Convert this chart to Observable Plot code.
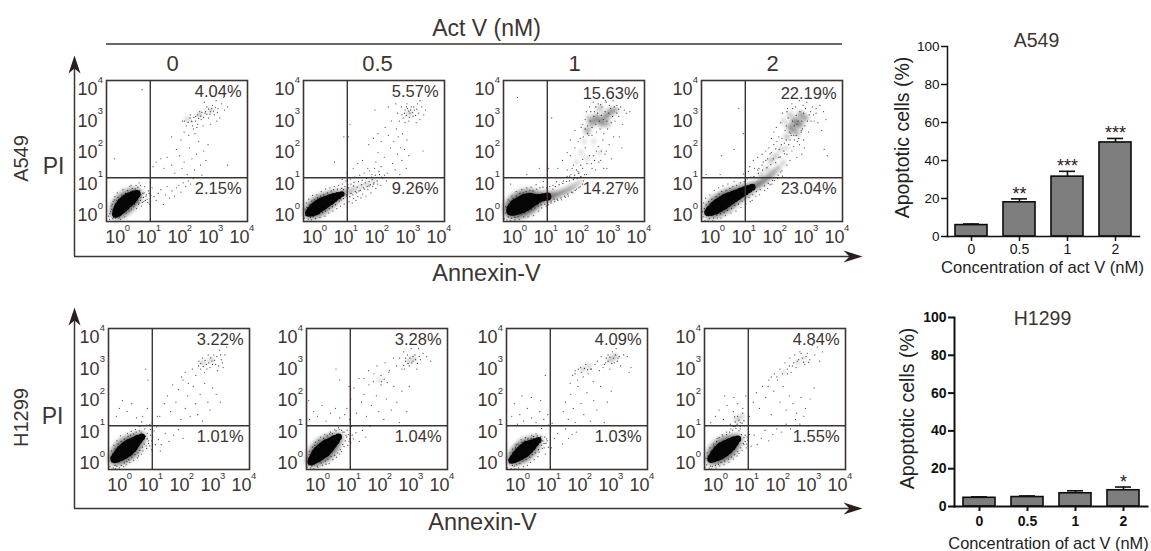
<!DOCTYPE html>
<html>
<head>
<meta charset="utf-8">
<script src="https://cdn.jsdelivr.net/npm/d3@7"></script>
<script src="https://cdn.jsdelivr.net/npm/@observablehq/plot@0.6"></script>
<style>
html,body{margin:0;padding:0;background:#fff}
#fig{position:relative;width:1151px;height:551px;overflow:hidden;background:#fff;font-family:"Liberation Sans",Arial,sans-serif}
#fig svg{position:absolute;overflow:visible;background:transparent;max-width:none}
</style>
</head>
<body>
<div id="fig"></div>
<script>
// ---------- Apoptosis bar data ----------
const doses = ["0","0.5","1","2"];
const a549Mean = [6, 18, 31.5, 49.5];
const a549Top  = [6.6, 19.8, 34.3, 51.6];
const a549Stars = ["", "**", "***", "***"];
const h1299Mean = [4.6, 5, 7, 8.6];
const h1299Top  = [5.1, 5.6, 8.3, 10.3];
const h1299Stars = ["", "", "", "*"];

// ---------- Quadrant percentages ----------
const a549Upper = ["4.04%","5.57%","15.63%","22.19%"];
const a549Lower = ["2.15%","9.26%","14.27%","23.04%"];
const h1299Upper = ["3.22%","3.28%","4.09%","4.84%"];
const h1299Lower = ["1.01%","1.04%","1.03%","1.55%"];

// ---------- Flow cytometry: log10 values x 100 ----------
// core: x, y, events in the clump; mist: x, y, events; sparse / halo: x, y
const a0core = [-5,5,12, 2,14,25, 10,25,36, 20,36,42, 31,46,42, 42,54,36, 52,61,25, 62,68,14];
const a0mist = [225,305,3, 265,320,4, 300,335,3];
const a0sparse = [-28,-2,-22,12,-20,30,-25,-12,-15,-10,-14,45,-8,60,-2,48,0,72,5,-8,10,-12,14,66,18,82,24,-4,28,8,33,80,38,14,40,92,45,20,48,86,52,28,56,34,60,96,62,22,66,46,70,40,72,80,76,58,78,30,82,70,85,44,88,92,92,62,96,52,100,78,104,36,108,64,112,88,70,104,
118,60,125,48,132,70,140,82,148,35,155,66,160,92,168,55,176,78,184,62,190,88,198,96,205,74,212,104,220,92,228,110,236,100,244,118,
115,155,125,170,140,180,150,150,160,185,175,160,185,135,190,210,200,190,208,150,215,170,225,130,232,215,240,180,248,145,255,195,262,235,268,160,272,128,278,205,285,175,292,225,
205,240,215,265,222,285,230,255,238,300,245,275,252,315,258,290,265,330,270,305,276,285,282,325,288,345,294,310,300,330,306,350,312,320,318,365,324,340,330,310,336,355,342,375,250,260,235,320,280,360,300,290,320,300,345,335,355,345,210,300,
80,400,-10,180,175,250,355,160];
const a0halo = [-24,6,-18,20,-17,36,-12,-6,-10,50,-6,-8,-4,38,2,58,6,-4,8,52,12,4,14,58,20,10,22,62,26,70,30,14,32,66,36,22,42,74,44,30,50,78,54,36,58,74,60,42,64,58,68,36,70,70,74,48,76,66,80,42,84,58,86,72,90,48,94,66,98,42,102,70,106,54,58,84,66,90,44,96,74,96,
216,300,228,296,234,310,240,298,246,312,252,300,258,320,262,308,268,316,272,328,278,312,284,330,288,322,294,338,298,322,304,340,310,332,316,344,322,328,242,285,256,280];
const b05core = [-18,8,12, -8,14,25, 3,22,36, 14,30,36, 25,37,36, 37,44,30, 50,50,25, 63,57,18, 76,63,12, 88,68,7];
const b05mist = [100,74,5, 115,78,4, 130,84,4, 150,92,3, 170,100,3, 190,110,2, 305,325,3];
const b05sparse = [-32,-8,-30,20,-26,40,-20,-12,-18,52,-10,-14,-6,64,4,-10,8,66,18,-6,22,76,34,-2,36,84,46,8,50,88,60,14,64,92,72,22,78,96,84,30,90,100,96,36,102,110,106,30,112,44,116,116,122,40,126,54,130,122,134,48,140,60,146,128,150,56,156,68,160,135,166,62,172,82,178,142,182,72,188,92,194,150,198,86,204,100,208,140,214,96,220,118,226,128,232,110,
90,115,105,135,125,150,140,165,155,175,172,150,185,130,198,170,205,200,215,155,225,185,235,135,245,215,252,165,260,145,268,195,275,130,282,175,290,210,296,150,
175,225,190,245,205,260,215,235,228,280,238,255,248,300,256,235,264,275,270,250,278,215,284,260,292,295,298,240,304,190,
268,325,280,345,286,310,292,335,298,355,304,300,308,325,312,345,318,315,322,335,328,295,332,355,336,325,340,305,346,345,352,320,358,335,262,355,274,300,340,365,
110,250,115,290,65,170,95,250,195,335,238,345,350,205];
const b05halo = [-28,0,-24,26,-22,12,-16,34,-12,-6,-8,46,-4,-4,0,50,6,2,10,56,16,6,20,62,26,10,30,66,36,14,42,72,48,22,54,78,58,28,62,82,68,34,74,84,80,46,86,50,88,86,94,54,98,92,104,62,108,98,114,60,118,100,124,66,128,106,136,72,142,108,148,80,154,112,162,84,168,118,176,94,184,122,190,100,196,128,202,110,210,130,216,122,
94,82,102,66,110,88,118,70,126,94,132,76,138,90,144,78,152,98,158,88,164,104,170,92,176,108,180,98,186,114,192,104,
282,320,290,325,296,318,300,340,306,312,310,335,316,328,320,345,326,318,330,338,296,345,304,332];
const c1core = [-12,14,16, -4,20,36, 8,28,56, 22,34,64, 36,42,64, 50,48,49, 64,50,30, 78,54,16, 92,58,14, 106,60,14];
const c1mist = [120,62,12, 135,66,10, 150,72,8, 165,78,7, 180,86,6, 195,95,5, 210,106,3, 235,270,8, 250,295,10, 265,310,12, 280,295,12, 295,315,12, 310,330,9, 325,335,6, 240,310,4, 275,340,5, 300,290,5, 200,170,2, 215,200,2, 235,180,2, 225,235,2, 255,235,2, 275,200,2];
const c1sparse = [-32,-10,-28,28,-24,-14,-20,50,-12,-16,-8,62,2,-14,6,76,16,-12,24,82,30,-4,40,88,44,-4,54,90,62,0,70,98,78,14,88,24,94,108,102,30,110,34,118,40,124,96,130,44,136,108,140,48,148,120,152,50,158,110,164,58,170,124,174,62,182,130,188,72,192,118,200,84,206,134,212,92,222,110,
140,150,155,175,170,145,180,190,190,160,195,215,205,140,212,245,220,150,228,215,232,130,240,255,248,165,255,190,262,145,270,220,278,175,285,240,292,195,298,150,305,225,312,180,
180,240,195,270,205,235,215,280,222,250,228,305,236,285,242,345,250,255,258,330,264,265,270,355,276,275,282,345,288,260,294,365,300,275,306,350,312,295,318,365,324,300,330,350,336,315,342,345,348,290,354,335,360,325,372,330,220,290,232,330,254,360,286,375,320,250,338,250,346,215,
40,130,10,375,120,310,110,150,80,150,170,200,-12,100];
const c1halo = [-28,8,-24,24,-20,-4,-18,36,-14,46,-10,-8,-4,54,2,-6,6,62,12,-4,18,70,22,4,28,72,34,8,38,76,46,14,50,80,56,18,60,78,66,24,72,84,76,30,82,88,86,34,92,90,98,36,104,88,108,42,114,92,118,46,124,84,128,52,132,92,138,52,144,98,150,56,156,102,162,62,168,108,172,68,178,110,184,74,190,114,196,80,202,118,208,88,214,124,220,100,
178,125,186,150,194,128,200,145,208,135,214,160,220,178,226,130,234,165,242,190,250,150,258,175,264,205,272,170,280,205,288,150,296,205,
228,275,236,260,244,300,250,280,256,315,262,290,268,325,274,300,280,318,286,305,292,330,298,300,304,325,310,340,316,315,322,345,330,325,336,338,246,330,262,345,278,352,296,360];
const d2core = [-14,10,12, -4,16,25, 8,24,36, 20,32,42, 32,39,42, 44,47,42, 56,54,36, 68,60,30, 80,66,25, 92,73,22, 104,78,18, 116,84,14, 128,90,10];
const d2mist = [142,96,12, 156,104,12, 170,114,10, 184,125,9, 198,138,7, 212,150,5, 228,168,3, 190,175,5, 205,190,4, 220,210,3, 240,250,5, 250,280,9, 265,300,12, 280,290,14, 262,270,8, 285,320,9, 300,310,7, 250,320,4, 230,300,3, 275,260,4, 155,130,3, 175,150,3, 240,215,2];
const d2sparse = [-34,-14,-32,12,-28,40,-24,-16,-22,55,-14,-17,-8,65,2,-16,6,80,16,-8,20,88,28,-8,34,94,42,0,50,100,60,8,70,108,76,14,86,120,92,26,100,132,108,36,116,140,122,44,128,48,136,150,140,62,146,145,152,66,160,160,168,80,172,175,178,86,186,98,192,100,200,112,210,118,220,138,226,125,240,160,250,175,
120,155,132,175,146,185,160,195,172,205,182,215,190,200,198,225,208,235,215,210,224,245,232,230,240,195,248,265,256,205,264,240,272,185,280,225,288,195,296,215,
190,245,198,265,206,280,214,250,220,295,226,325,234,270,242,340,250,240,256,355,262,255,268,345,274,235,280,365,286,270,292,350,298,285,304,360,310,265,316,330,322,345,328,300,334,325,340,295,346,350,352,270,358,330,366,305,
-20,130,30,190,70,210,85,340,100,260,370,190,360,210,25,130];
const d2halo = [-30,-4,-26,22,-20,34,-18,0,-12,44,-10,-10,-2,52,4,-8,12,60,14,2,22,68,26,6,30,76,38,10,44,80,48,16,56,86,62,22,66,92,72,32,78,96,84,36,90,104,96,46,102,108,106,52,112,116,118,58,124,122,130,66,134,124,142,76,148,134,154,82,162,144,168,94,176,152,180,102,188,162,194,112,204,168,212,128,218,186,224,142,232,196,
150,150,164,170,178,180,186,196,196,180,204,212,214,185,222,225,230,205,238,240,246,225,254,255,262,220,270,255,278,245,286,265,294,240,
238,285,244,310,252,262,258,340,264,285,270,318,276,300,282,330,288,300,294,325,300,340,306,300,312,320,318,300,326,320,334,340,240,330,258,300,272,290,290,275];
const e0core = [-16,14,14, -8,20,25, 2,28,36, 12,37,46, 24,46,52, 36,56,46, 48,66,30, 60,76,20, 72,84,10];
const e0mist = [270,320,3, 295,330,3];
const e0sparse = [-30,-10,-28,20,-26,40,-20,-14,-18,58,-12,-16,-8,72,0,-14,4,88,14,-10,22,-4,26,96,34,4,38,102,46,10,52,108,58,18,62,24,66,118,72,30,76,40,82,110,86,56,90,96,94,72,98,124,104,44,108,84,112,104,116,60,120,116,126,76,132,40,
-10,150,0,175,10,200,25,165,40,190,55,145,75,150,90,175,105,130,122,150,85,300,92,265,-5,120,
135,60,148,96,160,70,175,90,190,108,205,80,
130,150,145,190,155,215,165,165,172,250,182,195,190,235,198,140,205,265,212,175,220,215,228,150,238,245,245,190,252,155,260,220,268,135,275,255,285,195,292,170,300,240,312,220,325,195,
200,275,212,290,222,255,235,300,246,280,256,325,262,300,268,335,274,290,280,315,286,345,292,305,298,325,304,345,310,315,316,295,322,360,328,330,334,305,340,345,346,370];
const e0halo = [-24,6,-22,30,-14,-6,-14,46,-8,-8,-4,62,6,-6,6,70,16,2,16,78,24,6,28,86,30,12,36,90,40,20,46,94,50,28,54,100,60,34,64,104,66,42,70,100,74,52,76,92,80,62,84,86,88,48,90,78,94,64,98,56,100,90,104,72,106,100,
255,310,262,318,270,308,276,328,282,300,288,320,294,336,300,315,306,328,314,340,320,310,326,345,332,320,
60,120,72,132,88,122,100,108,112,120];
const f05core = [-20,6,12, -12,14,22, -2,24,36, 8,34,46, 20,43,52, 32,54,46, 44,64,32, 56,74,22, 68,84,10];
const f05mist = [295,325,3, 310,335,3, 200,265,2];
const f05sparse = [-33,-12,-30,18,-26,38,-22,-14,-16,52,-12,-17,-6,68,2,-12,10,84,16,-6,24,92,28,-2,38,0,42,100,50,12,56,108,62,20,68,114,72,30,78,38,82,100,86,54,92,90,96,106,102,70,106,50,110,118,116,78,124,98,
-25,140,-12,165,0,150,15,185,28,135,42,160,58,175,72,145,88,155,104,140,-28,200,60,300,72,265,102,245,
135,70,145,105,156,84,170,118,
95,175,108,205,118,240,126,160,134,270,142,195,150,220,158,150,166,250,174,185,182,285,190,215,198,165,206,260,214,140,222,205,230,290,238,170,246,245,256,195,264,130,272,230,280,300,288,165,296,245,
150,270,165,295,180,260,192,310,205,280,218,320,232,295,245,335,255,310,265,335,272,300,278,355,284,325,290,345,296,310,302,365,308,325,314,345,320,300,326,365,332,330,340,350,352,340,365,325];
const f05halo = [-28,-4,-24,28,-18,-8,-16,42,-10,-4,-8,58,0,-8,4,74,12,2,20,80,26,8,32,88,34,14,40,94,44,22,48,96,56,26,60,104,66,34,70,108,74,44,78,106,82,60,86,100,90,72,94,84,98,58,100,92,104,78,108,66,112,90,
278,312,284,335,292,318,298,335,304,320,308,340,316,330,322,318,328,340,
205,250,215,268,225,258];
const g1core = [-18,10,10, -10,16,18, 0,24,28, 10,32,36, 20,40,42, 32,50,40, 44,58,28, 56,66,16, 68,74,8];
const g1mist = [210,300,3, 230,310,3, 300,330,5, 315,340,4];
const g1sparse = [-32,-14,-28,12,-24,34,-20,-16,-16,46,-8,-17,-4,60,4,-14,12,76,20,-10,26,82,32,-6,42,4,46,90,54,12,60,94,66,22,70,36,76,86,80,48,86,64,90,30,94,78,100,52,
0,125,-18,150,8,155,20,135,32,175,46,145,60,130,72,165,85,140,98,155,-10,190,15,215,45,210,75,200,90,280,
110,50,120,80,130,95,145,62,155,110,165,80,176,92,190,100,
140,120,148,165,155,195,164,140,172,220,180,175,186,130,195,245,205,190,214,155,224,225,235,135,246,200,256,170,268,245,280,130,290,195,302,230,
170,255,178,280,186,295,194,265,204,305,212,275,220,315,228,285,236,300,244,260,250,315,258,325,264,295,270,340,276,305,284,320,292,345,298,300,306,355,312,320,318,365,324,335,332,310,342,345,354,340,366,305,360,290];
const g1halo = [-26,2,-22,22,-16,-6,-14,36,-10,-8,-6,50,-2,-4,2,62,8,0,14,68,18,8,24,72,28,12,34,78,40,20,44,80,48,28,52,86,58,34,64,88,68,44,74,82,78,58,82,72,86,50,88,84,92,64,96,72,
186,285,196,300,206,290,216,302,226,298,238,300,292,325,298,338,304,318,310,335,316,345,322,325,328,340,280,315,286,335,
100,122,112,128,78,112];
const h2core = [-14,14,12, -6,20,22, 4,28,36, 14,36,46, 24,44,52, 36,52,46, 48,60,36, 60,70,22, 72,78,10];
const h2mist = [70,140,4, 85,150,3, 220,290,2, 265,320,2, 285,335,2];
const h2sparse = [-33,-12,-30,16,-26,34,-20,-15,-18,50,-12,-17,-6,62,2,-14,6,80,14,-8,22,92,28,-4,36,100,44,4,50,110,58,14,64,118,70,24,76,32,80,110,86,42,92,60,96,90,100,50,104,74,
-15,130,0,150,12,170,26,140,38,185,48,125,58,165,64,120,72,190,80,130,88,175,94,120,98,215,60,210,30,215,
115,55,125,90,135,60,148,80,160,105,172,72,185,92,198,110,212,100,228,125,242,110,258,140,272,125,285,150,
110,150,122,195,132,225,142,175,152,245,162,210,172,265,180,155,188,230,198,275,208,195,218,245,228,170,238,215,250,190,262,160,276,210,290,175,305,205,318,240,
170,245,180,275,190,285,200,265,208,300,216,285,224,320,232,300,240,335,248,310,256,345,264,325,272,355,280,335,288,315,296,350,304,330,312,375,320,345,328,370,336,325,345,355];
const h2halo = [-28,-4,-24,24,-16,-8,-14,38,-10,-10,-4,54,0,-6,4,70,10,-2,12,82,18,4,24,88,30,8,36,92,42,14,46,100,52,20,56,106,62,28,66,112,72,38,76,104,82,50,84,92,90,64,92,82,96,70,100,62,102,84,106,56,110,92,
58,118,64,132,70,125,76,138,80,118,86,128,92,136,72,150,62,148,88,160,
232,285,238,310,244,290,252,320,260,305,268,330,276,350,284,322,292,340,300,322];

// ---------- Text ----------
const decades = [0,1,2,3,4];
const outerTexts = ["Act V (nM)","0","0.5","1","2","Annexin-V","Annexin-V","PI","PI"];
const barText = "Concentration of act V (nM)";
const yBarText = "Apoptotic cells (%)";

const fig = document.getElementById("fig");
const INK = "#3d3431";
const FONT = "Liberation Sans, Arial, sans-serif";

function triples(a){ const o=[]; for(let i=0;i<a.length;i+=3) o.push({x:a[i]/100,y:a[i+1]/100,n:a[i+2]}); return o; }
function pairs(a){ const o=[]; for(let i=0;i<a.length;i+=2) o.push({x:a[i]/100,y:a[i+1]/100}); return o; }
function place(svg,left,top){ svg.style.left=left+"px"; svg.style.top=top+"px"; fig.appendChild(svg); }

// ---------- Background annotation plot (page-sized scale) ----------
function head(tip, dir){
  const [x,y]=tip;
  return dir==="up"
    ? [[x,y],[x+6,y+18],[x,y+13],[x-6,y+18],[x,y]]
    : [[x,y],[x-19,y+6],[x-13,y],[x-19,y-6],[x,y]];
}
const heads = [head([74,55],"up"),head([862,256],"right"),head([74,307],"up"),head([862,508],"right")];
const annot = Plot.plot({
  width:1151,height:551,margin:0,style:{background:"transparent"},
  x:{domain:[0,1151],range:[0,1151],axis:null},
  y:{domain:[0,551],range:[0,551],axis:null},
  marks:[
    Plot.ruleY([43.5],{x1:106,x2:842,stroke:INK,strokeWidth:1.5}),
    Plot.ruleX([74],{y1:60,y2:256,stroke:INK,strokeWidth:1.5}),
    Plot.ruleY([256],{x1:74,x2:850,stroke:INK,strokeWidth:1.5}),
    Plot.ruleX([74],{y1:312,y2:508,stroke:INK,strokeWidth:1.5}),
    Plot.ruleY([508],{x1:74,x2:850,stroke:INK,strokeWidth:1.5}),
    ...heads.map(h=>Plot.line(h,{x:d=>d[0],y:d=>d[1],fill:"#2a1f1c",stroke:"none"})),
    Plot.text([outerTexts[0]],{x:()=>486,y:()=>28,fontSize:23,fill:INK,fontFamily:FONT}),
    Plot.text(doses,{x:(d,i)=>[172,377,574,772][i],y:()=>63,fontSize:22,fill:INK,fontFamily:FONT}),
    Plot.text([outerTexts[5]],{x:()=>486,y:()=>273,fontSize:23.5,fill:INK,fontFamily:FONT}),
    Plot.text([outerTexts[6]],{x:()=>482,y:()=>522,fontSize:23.5,fill:INK,fontFamily:FONT}),
    Plot.text([outerTexts[7]],{x:()=>53,y:()=>166,fontSize:23,fill:INK,fontFamily:FONT}),
    Plot.text([outerTexts[8]],{x:()=>52,y:()=>416,fontSize:23,fill:INK,fontFamily:FONT}),
    Plot.text(["A549"],{x:()=>21,y:()=>158,rotate:-90,fontSize:20,fill:INK,fontFamily:FONT}),
    Plot.text(["H1299"],{x:()=>21,y:()=>417,rotate:-90,fontSize:20,fill:INK,fontFamily:FONT}),
    Plot.text(["A549"],{x:()=>1036,y:()=>40,fontSize:19.5,fill:INK,fontFamily:FONT}),
    Plot.text(["H1299"],{x:()=>1042,y:()=>318,fontSize:19.5,fill:INK,fontFamily:FONT}),
    Plot.text([barText],{x:()=>1042,y:()=>267,fontSize:16.6,fill:"#222",fontFamily:FONT}),
    Plot.text([barText],{x:()=>1048,y:()=>543,fontSize:16.4,fill:"#222",fontFamily:FONT}),
    Plot.text([yBarText],{x:()=>902,y:()=>137,rotate:-90,fontSize:19.5,fill:"#222",fontFamily:FONT}),
    Plot.text([yBarText],{x:()=>907,y:()=>408,rotate:-90,fontSize:19.5,fill:"#222",fontFamily:FONT})
  ]
});
place(annot,0,0);

// ---------- One flow panel ----------
function flow(left,top,core,mist,sparse,halo,upper,lower,upperDy){
  const svg = Plot.plot({
    width:196,height:186,marginLeft:40,marginRight:15,marginTop:10,marginBottom:35,
    style:{background:"transparent"},
    x:{domain:[-0.35,4.19],axis:null},
    y:{domain:[-0.19,4.29],axis:null},
    r:{type:"sqrt",domain:[0,100],range:[0,11]},
    marks:[
      Plot.dot(triples(core),{x:"x",y:"y",r:d=>d.n*2.4,fill:"#222",fillOpacity:0.28,stroke:"none",imageFilter:"blur(2px)"}),
      Plot.dot(triples(mist),{x:"x",y:"y",r:"n",fill:"#222",fillOpacity:0.5,stroke:"none",imageFilter:"blur(2px)"}),
      Plot.dot(pairs(sparse),{x:"x",y:"y",r:0.62,fill:"#222",fillOpacity:0.8,stroke:"none"}),
      Plot.dot(pairs(halo),{x:"x",y:"y",r:0.62,fill:"#111",fillOpacity:0.85,stroke:"none"}),
      Plot.dot(triples(core),{x:"x",y:"y",r:"n",fill:"#050505",stroke:"none",imageFilter:"blur(0.6px)"}),
      Plot.ruleX([1.06],{stroke:INK,strokeWidth:1.4}),
      Plot.ruleY([1.2],{stroke:INK,strokeWidth:1.4}),
      Plot.frame({stroke:INK,strokeWidth:1.6}),
      Plot.text([upper],{x:()=>4.0,y:()=>3.94,dy:upperDy,textAnchor:"end",fontSize:16.5,fill:INK,fontFamily:FONT}),
      Plot.text([lower],{x:()=>4.0,y:()=>0.85,textAnchor:"end",fontSize:16.5,fill:INK,fontFamily:FONT}),
      Plot.text(decades,{x:d=>d,y:()=>-0.19,dx:-2,dy:16,text:()=>"10",fontSize:18,fill:INK,fontFamily:FONT}),
      Plot.text(decades,{x:d=>d,y:()=>-0.19,dx:10,dy:6,text:d=>String(d),fontSize:9.5,fill:INK,fontFamily:FONT}),
      Plot.text(decades,{x:()=>-0.35,y:d=>d,dx:-19,text:()=>"10",fontSize:18,fill:INK,fontFamily:FONT}),
      Plot.text(decades,{x:()=>-0.35,y:d=>d,dx:-6,dy:-10,text:d=>String(d),fontSize:9.5,fill:INK,fontFamily:FONT})
    ]
  });
  place(svg,left-40,top-10);
}

const topLefts=[106,303,503,701], botLefts=[108,306,506,704];
const topSets=[[a0core,a0mist,a0sparse,a0halo],[b05core,b05mist,b05sparse,b05halo],[c1core,c1mist,c1sparse,c1halo],[d2core,d2mist,d2sparse,d2halo]];
const botSets=[[e0core,e0mist,e0sparse,e0halo],[f05core,f05mist,f05sparse,f05halo],[g1core,g1mist,g1sparse,g1halo],[h2core,h2mist,h2sparse,h2halo]];
topLefts.forEach((l,i)=>flow(l,80,...topSets[i],a549Upper[i],a549Lower[i],i>=2?2:0));
botLefts.forEach((l,i)=>flow(l,328,...botSets[i],h1299Upper[i],h1299Lower[i],0));

// ---------- Bar charts ----------
function bars(axisX,y100,y0,mean,top,stars,bold,rangeW,lineW){
  const rows = doses.map((d,i)=>({dose:d,mean:mean[i],top:top[i],star:stars[i]}));
  const ml=50, mt=10;
  const svg = Plot.plot({
    width:ml+rangeW+8,height:mt+(y0-y100)+30,marginLeft:ml,marginRight:8,marginTop:mt,marginBottom:30,
    style:{background:"transparent"},
    x:{type:"band",domain:doses,padding:0,label:null},
    y:{domain:[0,100],label:null},
    marks:[
      Plot.ruleX(rows,{x:"dose",y1:"mean",y2:"top",stroke:"#111",strokeWidth:1.6}),
      Plot.tickY(rows,{x:"dose",y:"top",insetLeft:16,insetRight:16,stroke:"#111",strokeWidth:1.6}),
      Plot.barY(rows,{x:"dose",y:"mean",insetLeft:8,insetRight:8,fill:"#7d7d7d",stroke:"#0c0c0c",strokeWidth:1.6}),
      Plot.text(rows,{x:"dose",y:"top",text:"star",dy:-5,fontSize:18,fill:"#2a2020",fontFamily:FONT}),
      Plot.frame({anchor:"left",stroke:"#111",strokeWidth:lineW}),
      Plot.frame({anchor:"bottom",stroke:"#111",strokeWidth:lineW}),
      Plot.axisY({ticks:[0,20,40,60,80,100],tickSize:6,tickPadding:2,label:null,fontSize:bold?14:13.5,fontWeight:bold?"bold":"normal",fontFamily:FONT,strokeWidth:lineW,fill:"#111",stroke:"#111"}),
      Plot.axisX({tickSize:5,tickPadding:bold?5:3,label:null,fontSize:bold?14:14,fontWeight:bold?"bold":"normal",fontFamily:FONT,strokeWidth:lineW,fill:"#111",stroke:"#111"})
    ]
  });
  place(svg,axisX-ml,y100-mt);
}
bars(947,46,236,a549Mean,a549Top,a549Stars,false,192,1.5);
bars(954,317,506,h1299Mean,h1299Top,h1299Stars,true,193,2);
</script>
</body>
</html>
